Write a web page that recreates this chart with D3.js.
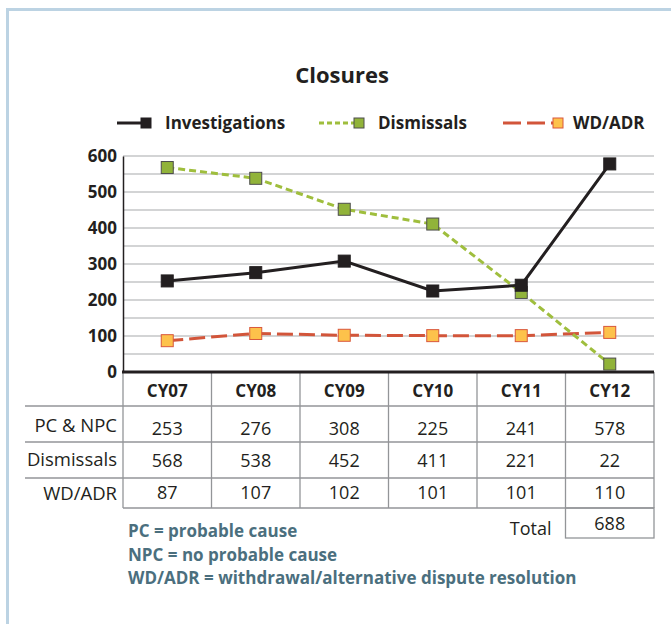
<!DOCTYPE html>
<html><head><meta charset="utf-8">
<script src="https://cdn.jsdelivr.net/npm/d3@7"></script>
<style>
html,body{margin:0;padding:0;background:#fff;}
svg{display:block;font-family:"Open Sans","Noto Sans",sans-serif;}
</style></head>
<body>
<script>
const categories = ["CY07","CY08","CY09","CY10","CY11","CY12"];
const investigations = [253,276,308,225,241,578];
const dismissals = [568,538,452,411,221,22];
const wdadr = [87,107,102,101,101,110];
const yTicks = [0,100,200,300,400,500,600];
const rowLabels = ["PC & NPC","Dismissals","WD/ADR"];
const seriesNames = ["Investigations","Dismissals","WD/ADR"];
const totalValue = 688;
const footnotes = ["PC = probable cause","NPC = no probable cause","WD/ADR = withdrawal/alternative dispute resolution"];

(function(){
const W = 671, H = 624;
const svg = d3.select("body").append("svg").attr("width", W).attr("height", H);

// frame
svg.append("rect").attr("x",7.5).attr("y",9.5).attr("width",W+20).attr("height",H+20)
  .attr("fill","none").attr("stroke","#bcd3e3").attr("stroke-width",3);

const pl = 123, pr = 654, pt = 156, pb = 372;
const x = d3.scaleBand().domain(categories).range([pl,pr]);
const y = d3.scaleLinear().domain([0,600]).range([pb,pt]);
const ink = "#231f20";

// title
svg.append("text").attr("x",342).attr("y",83).attr("text-anchor","middle")
  .attr("font-size",22).attr("font-weight",700).attr("fill",ink).text("Closures");

// gridlines
const grid = d3.range(50,601,50);
svg.append("g").selectAll("line").data(grid).join("line")
  .attr("x1",pl).attr("x2",pr).attr("y1",d=>y(d)).attr("y2",d=>y(d))
  .attr("stroke","#a7a9ac").attr("stroke-width",1.2);

// y axis
const yAxis = d3.axisLeft(y).tickValues(yTicks).tickSize(0).tickPadding(6);
const ga = svg.append("g").attr("transform",`translate(${pl},0)`).call(yAxis);
ga.select(".domain").attr("stroke",ink).attr("stroke-width",1.5);
ga.selectAll("text").attr("font-size",17).attr("font-weight",700).attr("fill",ink)
  .attr("font-family","'Open Sans',sans-serif").attr("dy","0.35em");

// table
const rowY = [pb, 406, 442, 478, 508];
const tcol = "#939598";
const tg = svg.append("g");
const bounds = categories.map(c=>x(c)).concat([pr]);
tg.selectAll("line.v").data(bounds).join("line").attr("class","v")
  .attr("x1",d=>d).attr("x2",d=>d).attr("y1",pb).attr("y2",rowY[4])
  .attr("stroke",tcol).attr("stroke-width",1.3);
tg.selectAll("line.h").data(rowY.slice(1)).join("line").attr("class","h")
  .attr("x1",(d,i)=>i<3?25:pl).attr("x2",pr).attr("y1",d=>d).attr("y2",d=>d)
  .attr("stroke",tcol).attr("stroke-width",1.3);

// x axis line
svg.append("line").attr("x1",pl-1).attr("x2",pr).attr("y1",pb).attr("y2",pb)
  .attr("stroke",ink).attr("stroke-width",3);

// header
tg.selectAll("text.hdr").data(categories).join("text").attr("class","hdr")
  .attr("x",d=>x(d)+x.bandwidth()/2).attr("y",397)
  .attr("text-anchor","middle").attr("font-size",17).attr("font-weight",700).attr("fill",ink).text(d=>d);

const tableData = [investigations, dismissals, wdadr];
const valBase = [435,467,499];
const labBase = [432,466,500];
tableData.forEach((arr,ri)=>{
  tg.append("text").attr("x",pl-6).attr("y",labBase[ri]).attr("text-anchor","end")
    .attr("font-size",18.5).attr("fill",ink).text(rowLabels[ri]);
  tg.selectAll(null).data(arr).join("text")
    .attr("x",(d,i)=>x(categories[i])+x.bandwidth()/2).attr("y",valBase[ri])
    .attr("text-anchor","middle").attr("font-size",18).attr("fill",ink).text(d=>d);
});

// total box
const lastX = x(categories[5]);
tg.append("rect").attr("x",lastX).attr("y",rowY[4]).attr("width",x.bandwidth()).attr("height",30)
  .attr("fill","none").attr("stroke",tcol).attr("stroke-width",1.3);
tg.append("text").attr("x",lastX+x.bandwidth()/2).attr("y",rowY[4]+22).attr("text-anchor","middle")
  .attr("font-size",18).attr("fill",ink).text(totalValue);
tg.append("text").attr("x",lastX-14).attr("y",rowY[4]+27).attr("text-anchor","end")
  .attr("font-size",18).attr("fill",ink).text("Total");

// footnotes
svg.append("g").selectAll("text").data(footnotes).join("text")
  .attr("x",128).attr("y",(d,i)=>537+i*23.5).attr("font-size",17).attr("font-weight",700)
  .attr("fill","#4b6f7e").text(d=>d);

// series
const series = [
  {name:seriesNames[0], values:investigations, stroke:ink, width:3, dash:null, fill:ink, mstroke:ink},
  {name:seriesNames[1], values:dismissals, stroke:"#9fbe3d", width:3, dash:"7,4", fill:"#91b33a", mstroke:"#4d4d4d"},
  {name:seriesNames[2], values:wdadr, stroke:"#d2553a", width:3, dash:"16,6", fill:"#fdc24b", mstroke:"#d9573c"}
];
const cx = i => x(categories[i]) + x.bandwidth()/2;
const line = d3.line().x((d,i)=>cx(i)).y(d=>y(d));
const order = [2,1,0];
order.forEach(si=>{
  const s = series[si];
  svg.append("path").datum(s.values).attr("d",line).attr("fill","none")
    .attr("stroke",s.stroke).attr("stroke-width",s.width).attr("stroke-dasharray",s.dash);
});
order.forEach(si=>{
  const s = series[si];
  const sz = 12;
  svg.append("g").selectAll("rect").data(s.values).join("rect")
    .attr("x",(d,i)=>cx(i)-sz/2).attr("y",d=>y(d)-sz/2).attr("width",sz).attr("height",sz)
    .attr("fill",s.fill).attr("stroke",s.mstroke).attr("stroke-width",1);
});

// legend
const legY = 123;
const leg = [
  {lx1:117,lx2:146,mx:146,tx:165},
  {lx1:319,lx2:355,mx:359,tx:378},
  {lx1:503,lx2:553,mx:558,tx:573}
];
leg.forEach((L,i)=>{
  const s = series[i];
  svg.append("line").attr("x1",L.lx1).attr("x2",L.lx2).attr("y1",legY).attr("y2",legY)
    .attr("stroke",s.stroke).attr("stroke-width",s.width).attr("stroke-dasharray",i==1?"5,3":(i==2?"18,6":null));
  svg.append("rect").attr("x",L.mx-5).attr("y",legY-5).attr("width",10).attr("height",10)
    .attr("fill",s.fill).attr("stroke",s.mstroke).attr("stroke-width",1);
  svg.append("text").attr("x",L.tx).attr("y",legY+6).attr("font-size",17).attr("font-weight",700)
    .attr("fill",ink).text(s.name);
});
})();
</script>
</body></html>
